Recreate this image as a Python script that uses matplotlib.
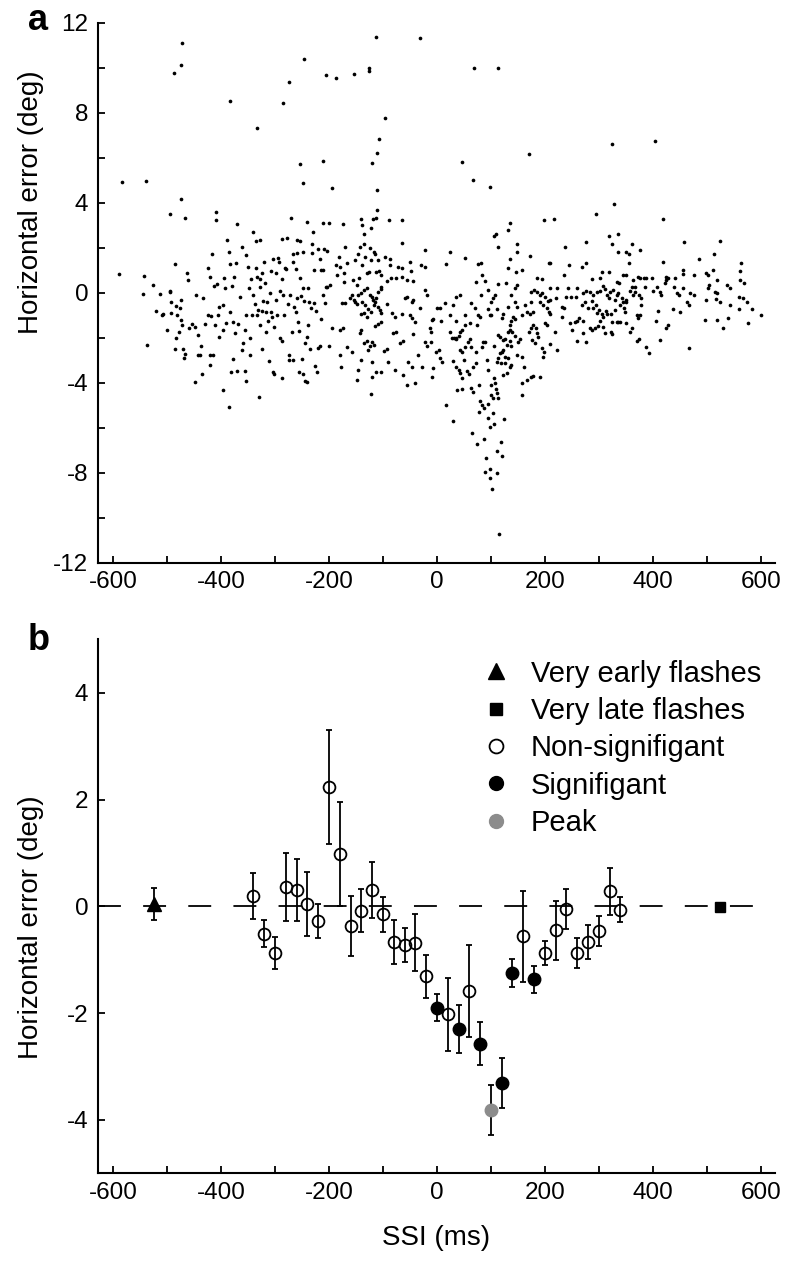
import matplotlib
matplotlib.use("Agg")
import matplotlib.pyplot as plt
from matplotlib.lines import Line2D
from matplotlib.ticker import MultipleLocator

plt.rcParams['font.family'] = ['Liberation Sans', 'DejaVu Sans']
plt.rcParams['lines.scale_dashes'] = False
plt.rcParams['axes.unicode_minus'] = False

### Panel a: single trials (SSI in ms, horizontal error in deg)
trials_high = [(-472, 11.08), (-474, 10.1), (-488, 9.78), (-113, 11.35), (-32, 11.3), (-246, 10.4),
               (-275, 9.35), (-206, 9.68), (-187, 9.56), (-154, 9.7), (-125, 9.97), (-125, 9.85),
               (-383, 8.53), (-285, 8.44), (-334, 7.3), (-97, 7.78), (-108, 6.85), (-111, 6.22),
               (-121, 5.78), (-111, 4.56), (-111, 3.68), (-254, 5.7), (-211, 5.85), (-249, 4.86),
               (-195, 4.64), (-584, 4.9), (-539, 4.95), (-474, 4.15), (-494, 3.48), (-409, 3.6),
               (69, 10.0), (114, 9.97), (46, 5.8), (66, 5.0), (98, 4.7), (170, 6.15), (325, 6.6),
               (404, 6.75), (328, 3.96), (294, 3.5)]

trials_early = [(-590, 0.81), (-543, 0.74), (-545, -0.06), (-537, -2.34), (-526, 0.33), (-520, -0.83),
                (-514, -0.06), (-510, -0.97), (-508, -0.95), (-501, -1.66), (-495, 0.05), (-494, 0.07),
                (-493, -0.92), (-492, -0.43), (-486, -2.5), (-485, 1.27), (-484, -0.58), (-483, -2.0),
                (-482, -1.0), (-477, -1.73), (-476, -0.7), (-474, -0.33), (-474, -1.2), (-473, -1.44),
                (-470, -2.5), (-468, -2.9), (-466, -2.74), (-464, 0.86), (-461, 0.56), (-459, -1.58),
                (-453, -1.41), (-449, -1.51), (-449, -3.98), (-446, -0.08), (-443, -1.88), (-443, -2.77),
                (-439, -2.77), (-437, -2.36), (-435, -3.6), (-433, -0.22), (-430, -1.39), (-425, 1.12),
                (-424, -1.0), (-421, -2.77), (-415, -2.77), (-421, -3.2), (-420, 0.71), (-418, -1.02),
                (-417, 1.7), (-413, 0.3), (-411, -1.44), (-407, 0.39), (-406, -1.0), (-404, -0.62),
                (-403, -1.96), (-396, -1.66), (-396, -0.55), (-396, -4.33), (-395, 0.64), (-392, 0.22),
                (-390, -1.36), (-389, 2.34), (-386, -5.07), (-385, 1.82), (-384, -0.87), (-383, 1.26),
                (-381, -3.51), (-379, 0.3), (-378, -2.96), (-378, -1.29), (-376, 0.68), (-375, -1.81),
                (-372, 1.33), (-370, -3.48), (-369, -1.41), (-364, -0.18), (-361, 2.04), (-361, -2.55),
                (-360, -2.22), (-356, -1.66), (-356, -3.47), (-354, -1.0), (-353, -3.93), (-353, 1.67),
                (-350, 1.15), (-349, 0.22), (-347, -2.03), (-346, -2.77), (-344, 0.59), (-343, -1.0),
                (-341, 2.68), (-340, -0.1), (-338, -0.52), (-335, 2.3), (-335, 1.08), (-334, 0.71),
                (-333, -1.0), (-332, -0.77), (-330, -4.62), (-328, -1.44), (-328, 0.27), (-327, 0.59),
                (-327, 2.36), (-325, 0.86), (-324, -0.82), (-324, -2.5), (-323, -0.37), (-320, 1.38),
                (-319, 0.41), (-317, -0.85), (-316, -1.73), (-314, -0.4), (-313, -1.26), (-311, -3.02),
                (-310, -0.03), (-308, -0.85), (-307, 0.96), (-306, -1.07), (-304, 1.48), (-303, -3.54),
                (-301, -3.63), (-301, -1.51), (-299, -0.33), (-298, 0.89), (-296, -0.97), (-295, 1.53),
                (-292, 1.38), (-291, -2.03), (-290, 0.07), (-288, 0.59), (-288, -2.15), (-288, 2.39),
                (-287, -3.78), (-285, -0.1), (-284, -0.97), (-282, 1.08), (-279, 1.05), (-277, 2.45),
                (-276, -0.52), (-275, -2.77), (-274, -3.0), (-272, -0.1), (-268, -1.73), (-267, 1.38),
                (-266, 1.7), (-266, -3.0), (-264, -0.62), (-262, 1.05), (-261, -0.85), (-260, -0.22),
                (-259, 2.34), (-259, 1.75), (-258, -1.32), (-256, -3.51), (-255, -1.7), (-253, 0.64),
                (-253, 2.3), (-251, -0.14), (-250, -2.96), (-249, 1.79), (-249, -3.6), (-248, 0.22),
                (-246, -0.37), (-245, -2.25), (-244, -3.93), (-241, -3.96), (-241, -1.96), (-239, 0.22),
                (-238, -1.44), (-237, -0.43), (-235, -2.5), (-233, -0.7), (-232, 2.15), (-231, 1.78),
                (-230, 2.71), (-228, 1.0), (-227, -0.47), (-226, -3.25), (-224, -0.82), (-222, -3.54),
                (-220, 1.93), (-220, -2.47), (-217, 1.48), (-217, -2.36), (-215, 1.0), (-211, 1.0),
                (-215, -1.19), (-211, -0.1), (-210, 1.93), (-205, 0.27), (-467, 3.33), (-409, 3.23),
                (-371, 3.05), (-270, 3.33), (-241, 3.13), (-212, 3.1)]

trials_mid = [(-200, 3.12), (-174, 3.05), (-140, 3.27), (-138, 3.0), (-118, 3.27), (-112, 3.33),
              (-89, 3.23), (-64, 3.23), (-122, 2.86), (-136, 2.59), (-65, 2.19), (-203, 1.85),
              (-170, 2.04), (-143, 2.04), (-135, 2.15), (-124, 1.97), (-116, 1.82), (-115, 1.7),
              (-146, 1.7), (-182, 1.6), (-133, 1.6), (-96, 1.6), (-87, 1.52), (-122, 1.45),
              (-109, 1.45), (-152, 1.45), (-23, 1.9), (24, 1.82), (52, 1.53), (17, 1.26), (77, 1.26),
              (82, 1.33), (106, 2.53), (109, 2.59), (131, 2.78), (135, 3.12), (114, 2.04), (149, 2.15),
              (149, 1.79), (172, 1.63), (199, 3.23), (207, 1.3), (135, 1.52), (146, 0.93), (158, 1.0),
              (131, 1.08), (186, 0.64), (195, 0.61), (-187, 1.23), (-180, 1.15), (-167, 1.3),
              (-138, 1.23), (-87, 1.23), (-72, 1.15), (-64, 1.08), (-50, 1.38), (-30, 1.23),
              (-23, 1.15), (-48, 0.96), (-203, 0.27), (-198, 0.34), (-207, -0.48), (-186, 0.78),
              (-172, 0.86), (-155, 0.56), (-144, 0.67), (-130, 0.86), (-126, 0.9), (-112, 0.93),
              (-107, 0.96), (-103, 0.78), (-93, 0.52), (-85, 0.64), (-75, 0.64), (-64, 0.71),
              (-56, 0.56), (-44, 0.52), (-172, 0.49), (-149, 0.34), (-170, -0.48), (-146, -0.1),
              (-141, -0.03), (-135, 0.12), (-130, 0.19), (-124, -0.08), (-121, -0.18), (-118, -0.33),
              (-115, -0.4), (-112, -0.22), (-109, 0.04), (-104, 0.16), (-103, 0.27), (-161, -0.25),
              (-158, -0.1), (-153, -0.33), (-151, -0.43), (-149, -0.52), (-138, -0.43), (-133, -0.55),
              (-127, -0.73), (-122, -0.85), (-141, -0.96), (-135, -0.92), (-130, -1.07), (-116, -0.55),
              (-110, -0.62), (-106, -0.77), (-103, -0.92), (-93, -0.52), (-84, -0.92), (-78, -1.07),
              (-59, -0.25), (-56, -0.18), (-47, -0.43), (-44, -0.33), (-64, -0.96), (-50, -1.0),
              (-46, -1.14), (-41, -1.29), (-32, -0.67), (-19, -0.1), (-22, 0.12), (1, -0.7), (6, -0.67),
              (7, -1.26), (-10, -1.22), (-7, -1.17), (-13, -1.59), (-11, -1.76), (-175, -0.48),
              (-195, -1.56), (-180, -1.66), (-174, -1.59), (-200, -2.36), (-180, -2.77), (-177, -3.29),
              (-167, -2.4), (-158, -2.62), (-149, -3.88), (-146, -3.44), (-143, -1.81), (-140, -1.66),
              (-135, -2.25), (-130, -2.15), (-124, -2.36), (-121, -2.18), (-116, -2.33), (-128, -2.55),
              (-114, -1.47), (-109, -1.41), (-103, -1.29), (-141, -2.99), (-121, -3.07), (-120, -3.74),
              (-112, -3.54), (-104, -3.51), (-122, -4.52), (-99, -2.59), (-93, -2.5), (-90, -3.07),
              (-81, -1.81), (-75, -1.73), (-78, -3.44), (-69, -2.25), (-62, -2.15), (-62, -3.66),
              (-56, -4.1), (-53, -3.07), (-46, -3.29), (-41, -4.03), (-44, -1.85), (-35, -2.77),
              (-27, -3.29), (-22, -2.18), (-19, -2.36), (-11, -2.18), (-10, -3.74), (-7, -3.36),
              (-1, -2.65), (3, -2.55), (6, -2.92), (10, -3.07), (16, -4.99), (24, -1.73), (32, -2.03),
              (30, -3.04), (36, -2.03), (40, -1.91), (43, -3.59), (46, -3.81), (38, -4.33), (47, -4.28),
              (52, -1.44), (58, -2.18), (61, -2.06), (64, -4.25), (67, -4.4), (67, -3.29), (72, -3.14),
              (75, -1.44), (78, -4.11), (80, -4.82), (83, -4.99), (88, -5.14), (95, -4.96), (83, -2.4),
              (86, -2.18), (89, -2.21), (92, -2.99), (95, -3.44), (98, -1.0), (101, -0.97), (100, -4.55),
              (104, -4.67), (101, -4.1), (107, -4.03), (106, -3.81), (109, -4.28), (112, -4.47),
              (114, -4.7), (111, -3.07), (114, -2.92), (117, -2.7), (120, -2.62), (123, -2.55),
              (119, -3.14), (126, -2.85), (131, -2.92), (129, -2.33), (123, -2.1), (126, -2.06),
              (135, -2.15), (138, -2.36), (140, -1.76), (145, -1.91), (135, -1.44), (137, -1.26),
              (141, -1.07), (145, -1.17), (151, -2.18), (154, -2.06), (148, -2.77), (157, -2.85),
              (162, -3.29), (166, -3.88), (174, -3.74), (178, -3.71), (157, -4.03), (170, -1.73),
              (174, -1.59), (177, -2.1), (182, -2.25), (185, -1.81), (188, -1.96), (194, -2.48),
              (199, -2.62), (197, -2.85), (191, -3.74), (163, -0.55), (166, -0.85), (172, -0.96),
              (178, -0.85), (157, -1.0), (175, 0.04), (180, 0.12), (185, 0.01), (191, -0.1), (195, -0.03),
              (200, -0.18), (205, -0.37), (191, -0.43), (197, -0.55), (203, -0.7), (207, -0.85),
              (178, -1.44), (183, -1.56), (200, -1.36), (203, -1.44), (149, -0.62), (145, -0.4),
              (138, -0.1), (131, -0.62), (120, -1.11), (123, -0.96), (135, -1.66), (132, -1.76),
              (64, -0.48), (70, -0.67), (77, -1.0), (80, -1.07), (82, -0.1), (94, 0.12), (95, -0.73),
              (101, -0.4), (107, -0.08), (112, -0.73), (83, 0.78), (89, 0.52), (72, 0.49), (43, -0.1),
              (36, -0.18), (30, -0.55), (52, -1.0), (61, -1.36), (28, -2.03), (35, -2.06), (15, -0.48),
              (24, -1.0), (35, -1.26), (43, -1.73), (46, -1.66), (64, -2.4), (72, -2.62), (43, -2.55),
              (46, -2.65), (52, -2.4), (51, -3.0), (36, -3.29), (40, -3.44), (55, -3.48), (59, -3.63),
              (114, -1.88), (117, -1.96), (106, -2.36), (135, -3.29), (138, -3.22), (126, -3.14),
              (123, -3.66), (129, -3.59), (157, -4.55), (104, -0.25), (114, 0.37), (128, 0.41),
              (145, 0.22), (149, 0.34), (174, -0.43)]

trials_late = [(216, 3.27), (418, 3.27), (319, 2.53), (335, 2.6), (276, 2.24), (325, 2.15), (237, 2.04),
               (457, 2.24), (525, 2.3), (361, 2.15), (377, 1.9), (513, 1.7), (486, 1.5), (564, 1.3),
               (209, 1.3), (419, 1.35), (245, 1.23), (268, 1.15), (277, 1.3), (335, 1.79), (351, 1.79),
               (355, 1.72), (356, 1.3), (235, 0.78), (287, 0.61), (305, 0.93), (303, 0.67), (319, 0.9),
               (333, 0.49), (338, 0.41), (344, 0.78), (350, 0.78), (364, 0.56), (373, 0.71), (376, 0.64),
               (383, 0.67), (387, 0.64), (399, 0.67), (425, 0.71), (428, 0.64), (441, 0.67), (455, 1.0),
               (456, 0.81), (476, 0.78), (499, 0.86), (503, 0.78), (511, 1.0), (518, 0.56), (537, 0.34),
               (543, 0.22), (561, 0.96), (562, 0.56), (569, 0.41), (209, 0.22), (222, 0.19), (243, 0.22),
               (259, 0.19), (248, -0.18), (258, -0.18), (220, -0.25), (210, -0.33), (240, -0.18),
               (270, -0.03), (277, 0.07), (283, 0.04), (290, -0.1), (296, 0.01), (307, 0.31), (311, 0.16),
               (320, 0.04), (327, 0.12), (333, -0.1), (336, -0.03), (361, 0.27), (367, 0.27), (364, -0.1),
               (375, -0.1), (379, -0.25), (385, 0.27), (401, 0.07), (407, 0.27), (413, 0.01), (416, -0.1),
               (422, 0.41), (425, 0.56), (439, 0.27), (449, -0.1), (445, -0.03), (455, 0.22), (469, -0.03),
               (476, -0.1), (464, -0.43), (467, -0.55), (504, 0.34), (503, 0.19), (515, 0.04), (519, -0.03),
               (517, -0.28), (524, -0.43), (499, -0.33), (543, -0.55), (560, -0.18), (567, -0.25),
               (574, -0.43), (583, -0.73), (601, -1.0), (560, -0.73), (577, -1.36), (540, -1.11),
               (530, -1.59), (519, -1.22), (496, -1.22), (467, -2.45), (450, -0.87), (438, -0.73),
               (425, -1.59), (428, -1.44), (410, -0.82), (406, -1.26), (414, -2.1), (387, -2.4),
               (393, -2.67), (371, -2.15), (375, -2.06), (373, -1.11), (377, -1.0), (379, -0.55),
               (371, -1.0), (361, -1.59), (358, -1.76), (351, -1.36), (348, -0.85), (346, -0.67),
               (339, -0.55), (344, -0.43), (336, -1.29), (330, -0.77), (324, -1.29), (333, -1.32),
               (339, -1.32), (316, -0.96), (322, -0.96), (313, -0.82), (308, -1.07), (305, -0.96),
               (301, -0.77), (297, -0.92), (295, -0.55), (290, -0.67), (302, -1.26), (308, -1.51),
               (311, -1.81), (322, -1.73), (324, -1.85), (299, -1.47), (288, -1.66), (293, -1.59),
               (283, -1.56), (271, -1.26), (264, -1.14), (259, -1.26), (271, -1.81), (276, -2.18),
               (260, -2.15), (251, -1.66), (246, -1.36), (256, -1.32), (232, -1.07), (231, -0.62),
               (235, -0.67), (209, -0.96), (219, -1.73), (209, -2.3), (222, -2.55), (268, -0.55),
               (274, -0.43), (280, -0.7), (287, -0.37), (358, 0.07), (367, 0.01), (303, 0.07),
               (316, -0.1), (319, -0.22), (330, -0.33), (342, -0.25), (351, -0.4), (351, -0.33)]

trials_low = [(30, -5.69), (65, -6.25), (75, -6.72), (87, -6.52), (90, -7.36), (89, -7.98), (99, -7.85),
              (99, -8.25), (112, -8.0), (102, -8.72), (115, -10.74), (112, -7.02), (120, -7.24),
              (119, -6.64), (95, -5.58), (98, -5.96), (106, -5.84), (124, -5.63), (78, -5.32), (104, -5.36)]

### Panel b: binned means +- error
ssi_open = [-340, -320, -300, -280, -260, -240, -220, -200, -180, -160, -140, -120, -100,
            -80, -60, -40, -20, 20, 60, 160, 200, 220, 240, 260, 280, 300, 320, 340]
mean_open = [0.19, -0.51, -0.87, 0.36, 0.31, 0.04, -0.28, 2.24, 0.98, -0.37, -0.08, 0.31, -0.15,
             -0.67, -0.72, -0.68, -1.31, -2.02, -1.58, -0.56, -0.87, -0.45, -0.05, -0.87, -0.67,
             -0.46, 0.28, -0.06]
err_open = [0.43, 0.26, 0.3, 0.64, 0.58, 0.6, 0.32, 1.07, 0.98, 0.56, 0.4, 0.52, 0.33,
            0.41, 0.32, 0.54, 0.4, 0.68, 0.86, 0.85, 0.23, 0.55, 0.37, 0.28, 0.32, 0.28, 0.44, 0.24]

ssi_sig = [0, 40, 80, 120, 140, 180]
mean_sig = [-1.9, -2.29, -2.57, -3.31, -1.25, -1.37]
err_sig = [0.25, 0.45, 0.4, 0.47, 0.27, 0.25]

ssi_peak, mean_peak, err_peak = [100], [-3.82], [0.47]
ssi_early, mean_early, err_early = [-525], [0.05], [0.3]
ssi_late, mean_late, err_late = [525], [-0.01], [0.08]

legend_labels = ['Very early flashes', 'Very late flashes', 'Non-signifigant', 'Signifigant', 'Peak']
peak_grey = '#8c8c8c'


def style_axis(ax):
    '''Only left/bottom spines, inward ticks.'''
    for side in ('top', 'right'):
        ax.spines[side].set_visible(False)
    for side in ('left', 'bottom'):
        ax.spines[side].set_linewidth(1.5)
    ax.tick_params(which='both', direction='in', length=5, width=1.3, labelsize=17.5)
    ax.tick_params(axis='x', pad=6)
    ax.tick_params(axis='y', pad=7)


fig = plt.figure(figsize=(8, 12.63), dpi=100)
ax_a = fig.add_axes([0.1225, 0.5545, 0.846, 0.4275])
ax_b = fig.add_axes([0.1225, 0.071, 0.846, 0.4228])

## Panel a
all_trials = trials_high + trials_early + trials_mid + trials_late + trials_low
ax_a.scatter([p[0] for p in all_trials], [p[1] for p in all_trials], s=7, c='black', linewidths=0)
ax_a.set_xlim(-628, 626)
ax_a.set_ylim(-12, 12)
ax_a.xaxis.set_major_locator(MultipleLocator(200))
ax_a.xaxis.set_minor_locator(MultipleLocator(100))
ax_a.yaxis.set_major_locator(MultipleLocator(4))
ax_a.yaxis.set_minor_locator(MultipleLocator(2))
style_axis(ax_a)
ax_a.set_ylabel('Horizontal error (deg)', fontsize=20)
ax_a.yaxis.set_label_coords(-0.08, 0.668)

## Panel b
ax_b.axhline(0, color='black', lw=1.3, dashes=(16.5, 16), zorder=1)
bar_kw = dict(ecolor='black', elinewidth=1.3, capsize=2.5, capthick=1.3, ls='none', zorder=3)
ax_b.errorbar(ssi_open, mean_open, yerr=err_open, marker='o', ms=8.5, mfc='none', mec='black', mew=1.3, **bar_kw)
ax_b.errorbar(ssi_sig, mean_sig, yerr=err_sig, marker='o', ms=9, mfc='black', mec='black', **bar_kw)
ax_b.errorbar(ssi_peak, mean_peak, yerr=err_peak, marker='o', ms=9, mfc=peak_grey, mec=peak_grey, **bar_kw)
ax_b.errorbar(ssi_early, mean_early, yerr=err_early, marker='^', ms=10.5, mfc='black', mec='black', **bar_kw)
ax_b.errorbar(ssi_late, mean_late, yerr=err_late, marker='s', ms=7.5, mfc='black', mec='black', **bar_kw)

ax_b.set_xlim(-628, 626)
ax_b.set_ylim(-5, 5)
ax_b.xaxis.set_major_locator(MultipleLocator(200))
ax_b.xaxis.set_minor_locator(MultipleLocator(100))
ax_b.yaxis.set_major_locator(MultipleLocator(2))
style_axis(ax_b)
ax_b.set_ylabel('Horizontal error (deg)', fontsize=20)
ax_b.yaxis.set_label_coords(-0.08, 0.461)
ax_b.set_xlabel('SSI (ms)', fontsize=20)
ax_b.xaxis.set_label_coords(0.5, -0.097)

handles = [Line2D([], [], ls='none', marker='^', ms=12, color='black'),
           Line2D([], [], ls='none', marker='s', ms=8.5, color='black'),
           Line2D([], [], ls='none', marker='o', ms=10, mfc='none', mec='black', mew=1.3),
           Line2D([], [], ls='none', marker='o', ms=10, color='black'),
           Line2D([], [], ls='none', marker='o', ms=10, color=peak_grey)]
ax_b.legend(handles, legend_labels, loc='upper left', bbox_to_anchor=(0.566, 0.962),
            frameon=False, fontsize=21, handlelength=1.0, handletextpad=0.7,
            labelspacing=0.32, borderpad=0, borderaxespad=0)

fig.text(0.035, 0.976, 'a', fontsize=26, fontweight='bold')
fig.text(0.035, 0.4853, 'b', fontsize=26, fontweight='bold')

fig.savefig('out.png', dpi=100)
